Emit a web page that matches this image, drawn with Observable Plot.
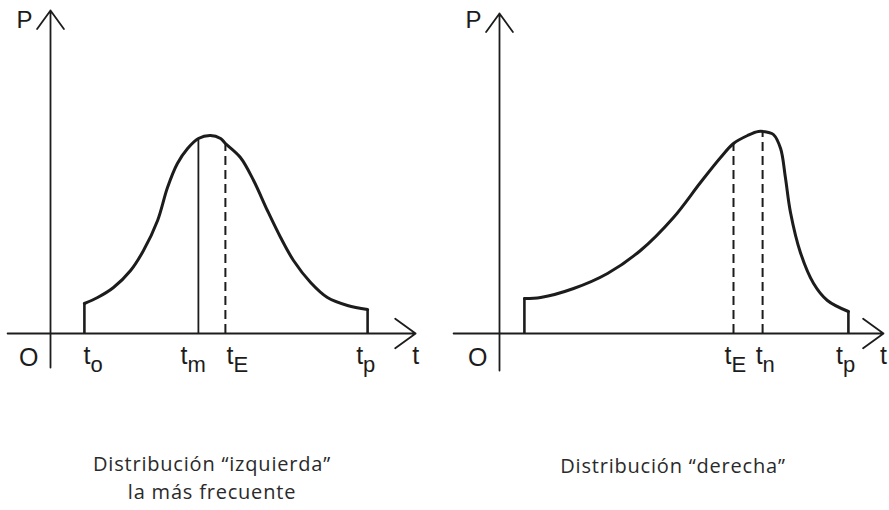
<!DOCTYPE html>
<html><head><meta charset="utf-8">
<script src="https://cdn.jsdelivr.net/npm/d3@7"></script>
<script src="https://cdn.jsdelivr.net/npm/@observablehq/plot@0.6"></script>
<style>
body{margin:0;background:#fff;}
#wrap{position:relative;width:889px;height:510px;overflow:hidden;background:#fff;}
.panel{position:absolute;top:0;}
.cap{font-family:"Open Sans",sans-serif;font-size:20px;letter-spacing:0.8px;color:#2a2a2a;text-align:center;line-height:28px;}
</style></head><body>
<div id="wrap">
  <div class="panel" id="L" style="left:0;width:445px"></div>
  <div class="panel" id="R" style="left:445px;width:444px"></div>
</div>
<script>
// ---- data (t in time units, P in probability units) ----
const leftT = [1.13,1.57,2.1,2.67,3.1,3.57,3.9,4.23,4.57,4.93,5.33,5.67,5.83,6.33,6.77,7.23,7.67,8.1,8.67,9.23,9.9,10.57];
const leftP = [1.5,1.8,2.3,3.15,4.15,5.65,7.3,8.5,9.25,9.75,9.9,9.75,9.5,8.8,7.65,6.15,4.8,3.65,2.55,1.8,1.4,1.2];
const rightT = [0.83,1.37,2.47,3.6,4.7,5.8,6.7,7.37,7.8,8.27,8.63,8.97,9.13,9.37,9.53,9.7,10.03,10.47,10.93,11.63];
const rightP = [1.75,1.8,2.25,3.0,4.15,5.8,7.55,8.8,9.5,9.9,10.1,10.05,9.95,9.25,7.8,6.05,4.05,2.5,1.65,1.1];

// reference lines (t, height on the curve)
const leftSolidT = [4.93], leftSolidP = [9.75];       // t_m
const leftDashedT = [5.83], leftDashedP = [9.5];      // t_E
const rightSolidT = [], rightSolidP = [];
const rightDashedT = [7.8, 8.77], rightDashedP = [9.5, 10.05]; // t_E, t_n

// tick labels
const leftTickSub = ["o","m","E","p"];
const leftTickT = [1.13, 4.93, 5.83, 10.57];
const rightTickSub = ["E","n","p"];
const rightTickT = [7.8, 8.77, 11.63];

// axis extents
const leftAxisT = [-1.43, 12.17], rightAxisT = [-1.53, 12.8];
const leftAxisP = [-1.7, 16.15], rightAxisP = [-1.85, 16.0];

const captionsLeft = ["Distribución \u201cizquierda\u201d", "la más frecuente"];
const captionsRight = ["Distribución \u201cderecha\u201d"];

const INK = "#1c1c1c";
const LBL = "'Liberation Sans', Arial, sans-serif";

function panel(o) {
  const curve = o.T.map((t, i) => ({t, p: o.P[i]}));
  const first = curve[0], last = curve[curve.length - 1];
  const solid = o.solidT.map((t, i) => ({t, p: o.solidP[i]}));
  const dashed = o.dashedT.map((t, i) => ({t, p: o.dashedP[i]}));
  const ticks = o.tickT.map((t, i) => ({t, sub: o.tickSub[i], dx: o.tickDx[i]}));
  const marks = [
    // axes with open arrowheads
    Plot.arrow([0], {x1: o.axisT[0], x2: o.axisT[1], y1: 0, y2: 0, stroke: INK, strokeWidth: 1.8, headLength: 21, headAngle: 72}),
    Plot.arrow([0], {x1: 0, x2: 0, y1: o.axisP[0], y2: o.axisP[1], stroke: INK, strokeWidth: 1.8, headLength: 19, headAngle: 72}),
    // distribution edges
    Plot.ruleX([first, last], {x: "t", y1: 0, y2: "p", stroke: INK, strokeWidth: 2.6}),
    // distribution curve
    Plot.line(curve, {x: "t", y: "p", curve: "catmull-rom", stroke: INK, strokeWidth: 3}),
    Plot.ruleX(solid, {x: "t", y1: 0, y2: "p", stroke: INK, strokeWidth: 1.8}),
    Plot.ruleX(dashed, {x: "t", y1: 0, y2: "p", stroke: INK, strokeWidth: 2, strokeDasharray: "9,5"}),
    // tick labels: t with subscript
    ...ticks.map(d => Plot.text([d], {x: "t", y: -1.5, text: () => "t", textAnchor: "end", lineAnchor: "bottom", dx: d.dx, fontSize: 25, fontFamily: LBL, fill: INK})),
    ...ticks.map(d => Plot.text([d], {x: "t", y: -1.5, text: "sub", textAnchor: "start", lineAnchor: "bottom", dx: d.dx, dy: 8, fontSize: 22, fontFamily: LBL, fill: INK})),
    Plot.text(["O"], {x: -0.73, y: -1.6, text: d => d, textAnchor: "middle", lineAnchor: "bottom", fontSize: 25, fontFamily: LBL, fill: INK}),
    Plot.text(["t"], {x: o.axisT[1], y: -1.5, text: d => d, textAnchor: "middle", lineAnchor: "bottom", fontSize: 25, fontFamily: LBL, fill: INK}),
    Plot.text(["P"], {x: -0.87, y: 15.3, text: d => d, textAnchor: "middle", lineAnchor: "bottom", fontSize: 24, fontFamily: LBL, fill: INK})
  ];
  return Plot.plot({
    width: o.width, height: 400, margin: 0,
    x: {type: "linear", domain: [0, 1], range: [o.origin, o.origin + 30], axis: null},
    y: {type: "linear", domain: [0, 1], range: [333, 313], axis: null},
    style: {background: "transparent", overflow: "visible"},
    marks
  });
}

function caption(lines, style) {
  const d = document.createElement("div");
  d.className = "cap";
  Object.assign(d.style, style);
  lines.forEach(l => { const s = document.createElement("div"); s.textContent = l; d.appendChild(s); });
  return d;
}

const L = document.getElementById("L"), R = document.getElementById("R");
L.appendChild(panel({T: leftT, P: leftP, solidT: leftSolidT, solidP: leftSolidP, dashedT: leftDashedT, dashedP: leftDashedP,
  tickT: leftTickT, tickSub: leftTickSub, tickDx: [6, -11, 8, -4.5], axisT: leftAxisT, axisP: leftAxisP, origin: 50, width: 445}));
L.appendChild(caption(captionsLeft, {marginTop: "50px", paddingRight: "21px"}));
R.appendChild(panel({T: rightT, P: rightP, solidT: rightSolidT, solidP: rightSolidP, dashedT: rightDashedT, dashedP: rightDashedP,
  tickT: rightTickT, tickSub: rightTickSub, tickDx: [-2, 0, -5.5], axisT: rightAxisT, axisP: rightAxisP, origin: 54, width: 444}));
R.appendChild(caption(captionsRight, {marginTop: "52px", paddingLeft: "12px"}));
</script>
</body></html>
